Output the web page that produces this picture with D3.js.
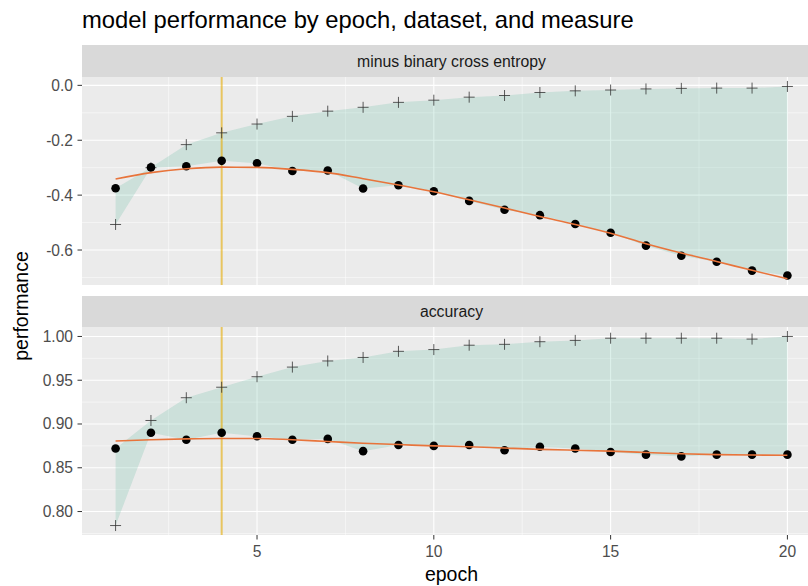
<!DOCTYPE html>
<html>
<head>
<meta charset="utf-8">
<script src="https://cdn.jsdelivr.net/npm/d3@7"></script>
<style>
  body { margin: 0; background: #fff; }
  text { font-family: "Liberation Sans", Arial, sans-serif; }
</style>
</head>
<body>
<div id="chart"></div>
<script>
const epochs = d3.range(1, 21);
const bestEpoch = 4;

// minus binary cross entropy
const bceTrain = [-0.507, -0.300, -0.216, -0.173, -0.141, -0.113, -0.094, -0.080, -0.062, -0.054,
                  -0.043, -0.037, -0.026, -0.020, -0.017, -0.013, -0.011, -0.010, -0.010, -0.004];
const bceValid = [-0.375, -0.299, -0.295, -0.275, -0.284, -0.312, -0.310, -0.376, -0.364, -0.386,
                  -0.421, -0.453, -0.473, -0.505, -0.537, -0.584, -0.621, -0.643, -0.675, -0.693];
const bceSmooth = [-0.341, -0.318, -0.304, -0.298, -0.299, -0.306, -0.318, -0.340, -0.363, -0.388,
                   -0.417, -0.447, -0.478, -0.507, -0.539, -0.577, -0.611, -0.642, -0.674, -0.705];

// accuracy
const accTrain = [0.784, 0.904, 0.930, 0.942, 0.954, 0.965, 0.972, 0.976, 0.983, 0.985,
                  0.990, 0.991, 0.994, 0.9955, 0.998, 0.998, 0.998, 0.998, 0.997, 1.000];
const accValid = [0.872, 0.890, 0.882, 0.890, 0.886, 0.882, 0.883, 0.869, 0.876, 0.875,
                  0.876, 0.870, 0.874, 0.872, 0.868, 0.865, 0.863, 0.865, 0.865, 0.865];
const accSmooth = [0.8805, 0.882, 0.883, 0.8835, 0.8835, 0.882, 0.880, 0.878, 0.8765, 0.875,
                   0.874, 0.8725, 0.871, 0.870, 0.869, 0.8675, 0.866, 0.865, 0.8645, 0.8643];

const bceTicks = [0.0, -0.2, -0.4, -0.6];
const accTicks = [1.00, 0.95, 0.90, 0.85, 0.80];
const xTicks = [5, 10, 15, 20];

const width = 808, height = 586;
const left = 82, right = 808;

const svg = d3.select('#chart').append('svg')
  .attr('width', width).attr('height', height);

const x = d3.scaleLinear().domain([0.05, 20.95]).range([left, 821]);

// ggplot style labels use a plain hyphen for negatives
const hy = f => v => f(v).replace('\u2212', '-');

const panels = [
  { label: 'minus binary cross entropy', train: bceTrain, valid: bceValid, smooth: bceSmooth,
    ticks: bceTicks, fmt: hy(d3.format('.1f')), top: 45, stripH: 32, bottom: 285 },
  { label: 'accuracy', train: accTrain, valid: accValid, smooth: accSmooth,
    ticks: accTicks, fmt: hy(d3.format('.2f')), top: 296, stripH: 31, bottom: 535 }
];

svg.append('defs').append('clipPath').attr('id', 'clipX')
  .append('rect').attr('x', left).attr('y', 0).attr('width', right - left).attr('height', height);

panels.forEach(p => {
  const pTop = p.top + p.stripH;
  const all = p.train.concat(p.valid);
  const ext = d3.extent(all);
  const pad = (ext[1] - ext[0]) * 0.05;
  const y = d3.scaleLinear().domain([ext[0] - pad, ext[1] + pad]).range([p.bottom, pTop]);

  const g = svg.append('g').attr('clip-path', 'url(#clipX)');

  // strip
  g.append('rect').attr('x', left).attr('y', p.top).attr('width', right - left).attr('height', p.stripH)
    .attr('fill', '#D9D9D9');
  svg.append('text').attr('x', (left + 821) / 2).attr('y', p.top + p.stripH / 2 + 5.5)
    .attr('text-anchor', 'middle').attr('font-size', 15.8).attr('fill', '#1A1A1A').text(p.label);

  // panel background
  g.append('rect').attr('x', left).attr('y', pTop).attr('width', right - left).attr('height', p.bottom - pTop)
    .attr('fill', '#EBEBEB');

  // minor grid
  const yMinor = p.ticks.slice(0, -1).map((t, i) => (t + p.ticks[i + 1]) / 2);
  yMinor.push(p.ticks[p.ticks.length - 1] * 2 - (p.ticks[p.ticks.length - 1] + p.ticks[p.ticks.length - 2]) / 2);
  g.selectAll(null).data(yMinor.filter(v => v >= y.domain()[0] && v <= y.domain()[1])).enter().append('line')
    .attr('x1', left).attr('x2', right).attr('y1', d => y(d)).attr('y2', d => y(d))
    .attr('stroke', '#fff').attr('stroke-width', 0.5);
  g.selectAll(null).data([2.5, 7.5, 12.5, 17.5]).enter().append('line')
    .attr('y1', pTop).attr('y2', p.bottom).attr('x1', d => x(d)).attr('x2', d => x(d))
    .attr('stroke', '#fff').attr('stroke-width', 0.5);
  // major grid
  g.selectAll(null).data(p.ticks).enter().append('line')
    .attr('x1', left).attr('x2', right).attr('y1', d => y(d)).attr('y2', d => y(d))
    .attr('stroke', '#fff').attr('stroke-width', 1.1);
  g.selectAll(null).data(xTicks).enter().append('line')
    .attr('y1', pTop).attr('y2', p.bottom).attr('x1', d => x(d)).attr('x2', d => x(d))
    .attr('stroke', '#fff').attr('stroke-width', 1.1);

  // ribbon between train and validation
  const rows = epochs.map((e, i) => ({ e, t: p.train[i], v: p.valid[i], s: p.smooth[i] }));
  const area = d3.area().x(d => x(d.e)).y0(d => y(Math.min(d.t, d.v))).y1(d => y(Math.max(d.t, d.v)));
  g.append('path').datum(rows).attr('d', area).attr('fill', '#1B9E77').attr('fill-opacity', 0.15);

  // best epoch
  g.append('line').attr('x1', x(bestEpoch)).attr('x2', x(bestEpoch)).attr('y1', pTop).attr('y2', p.bottom)
    .attr('stroke', '#E6AB02').attr('stroke-opacity', 0.6).attr('stroke-width', 2);

  // training points (+)
  const sz = 5.5;
  g.selectAll(null).data(rows).enter().append('path')
    .attr('d', d => `M${x(d.e) - sz},${y(d.t)}H${x(d.e) + sz}M${x(d.e)},${y(d.t) - sz}V${y(d.t) + sz}`)
    .attr('stroke', '#333').attr('stroke-opacity', 0.8).attr('stroke-width', 1).attr('fill', 'none');

  // validation points
  g.selectAll(null).data(rows).enter().append('circle')
    .attr('cx', d => x(d.e)).attr('cy', d => y(d.v)).attr('r', 4.3).attr('fill', '#000');

  // smooth
  const line = d3.line().x(d => x(d.e)).y(d => y(d.s)).curve(d3.curveMonotoneX);
  g.append('path').datum(rows).attr('d', line).attr('fill', 'none')
    .attr('stroke', '#E8743B').attr('stroke-width', 1.6);

  // y axis
  const ya = svg.append('g');
  ya.selectAll(null).data(p.ticks).enter().append('line')
    .attr('x1', left - 4.5).attr('x2', left).attr('y1', d => y(d)).attr('y2', d => y(d))
    .attr('stroke', '#333').attr('stroke-width', 1);
  ya.selectAll(null).data(p.ticks).enter().append('text')
    .attr('x', left - 9).attr('y', d => y(d) + 5.5).attr('text-anchor', 'end')
    .attr('font-size', 15.6).attr('fill', '#4D4D4D').text(d => p.fmt(d));
});

// x axis (bottom panel)
const xa = svg.append('g');
xa.selectAll(null).data(xTicks).enter().append('line')
  .attr('x1', d => x(d)).attr('x2', d => x(d)).attr('y1', 535).attr('y2', 539.5)
  .attr('stroke', '#333').attr('stroke-width', 1);
xa.selectAll(null).data(xTicks).enter().append('text')
  .attr('x', d => x(d)).attr('y', 557).attr('text-anchor', 'middle')
  .attr('font-size', 15.6).attr('fill', '#4D4D4D').text(d => d);

svg.append('text').attr('x', (left + 821) / 2).attr('y', 580.5).attr('text-anchor', 'middle')
  .attr('font-size', 19.5).attr('fill', '#000').text('epoch');
svg.append('text').attr('transform', `translate(28,${(77 + 535) / 2}) rotate(-90)`)
  .attr('text-anchor', 'middle').attr('font-size', 19.5).attr('fill', '#000').text('performance');
svg.append('text').attr('x', 82).attr('y', 28).attr('font-size', 23.8).attr('fill', '#000')
  .text('model performance by epoch, dataset, and measure');
</script>
</body>
</html>
